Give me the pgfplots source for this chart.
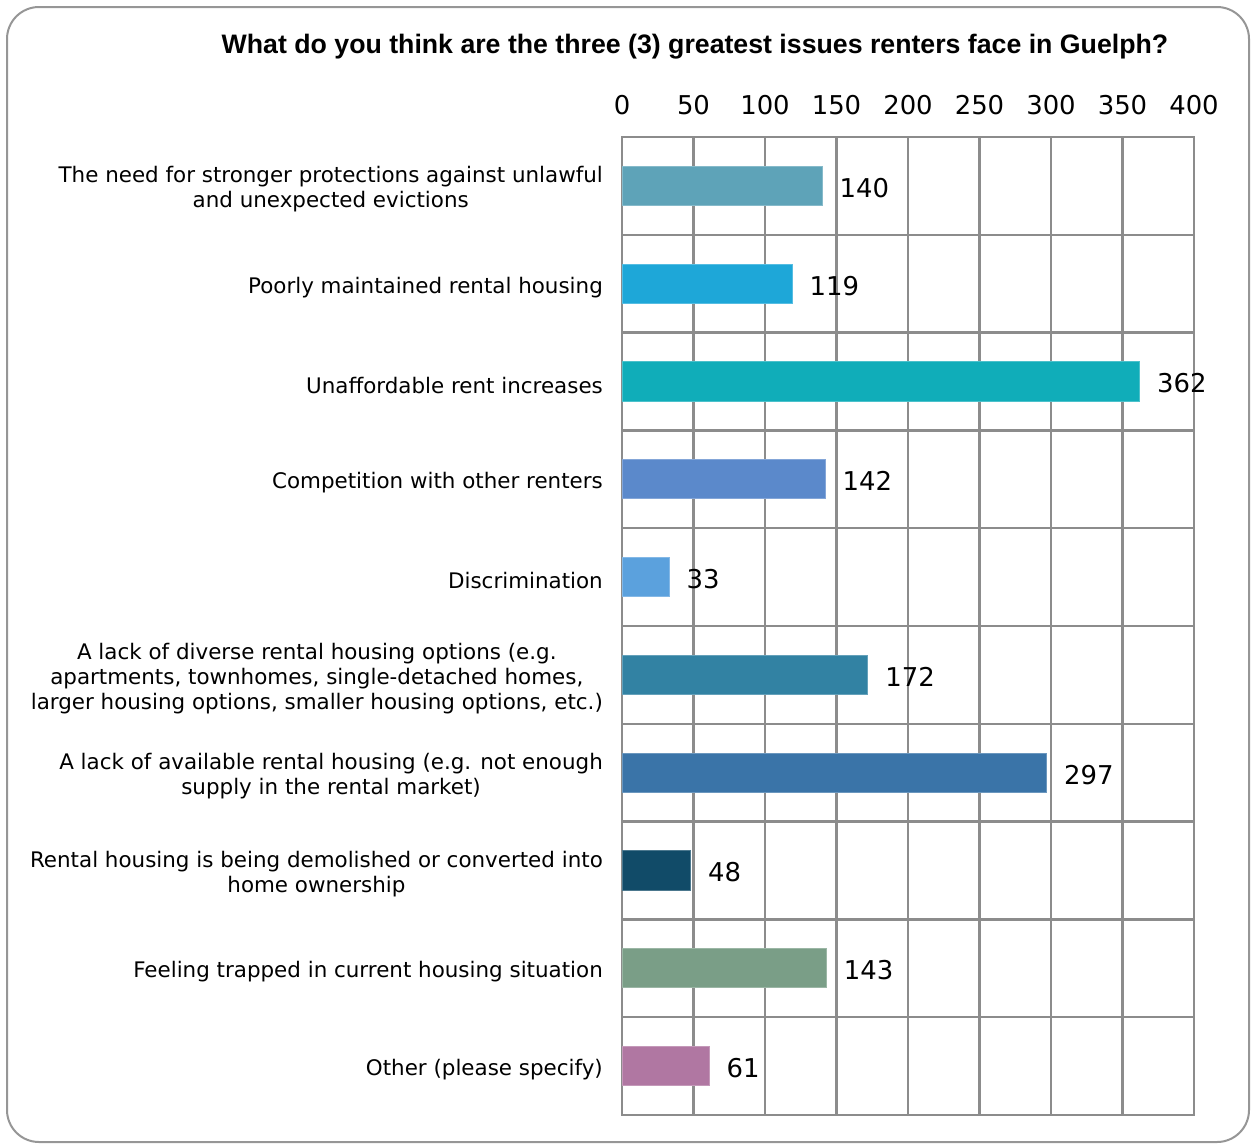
\documentclass[border=0pt]{standalone}
\usepackage{pgfplots}
\pgfplotsset{compat=1.18}
\usepackage{fontspec}
\setmainfont{DejaVu Sans}
\newfontfamily\titlefont{Liberation Sans}
\definecolor{gridgray}{RGB}{140,140,140}
\definecolor{framegray}{RGB}{150,150,150}
\definecolor{c1}{HTML}{5EA3B8}
\definecolor{c2}{HTML}{1EA7D8}
\definecolor{c3}{HTML}{10ADB9}
\definecolor{c4}{HTML}{5B89CB}
\definecolor{c5}{HTML}{5BA1DD}
\definecolor{c6}{HTML}{3282A3}
\definecolor{c7}{HTML}{3A74A8}
\definecolor{c8}{HTML}{114B68}
\definecolor{c9}{HTML}{7A9E87}
\definecolor{c10}{HTML}{B077A2}
\begin{document}
\begin{tikzpicture}
\path[use as bounding box] (0bp,0bp) rectangle (1255bp,-1147bp);
\draw[color=framegray, line width=2bp, rounded corners=32bp] (7bp,-7bp) rectangle (1249bp,-1142bp);
\node[font=\titlefont\bfseries\fontsize{26.8}{32}\selectfont] at (695bp,-47bp) {What do you think are the three (3) greatest issues renters face in Guelph?};
\begin{axis}[
  at={(622bp,-137bp)}, anchor=north west,
  scale only axis, width=572bp, height=978bp,
  xmin=0, xmax=400, ymin=-0.5, ymax=9.5, y dir=reverse,
  xtick={0,50,...,400}, xticklabel pos=upper,
  ytick={0,...,9},
  yticklabels={{The need for stronger protections against unlawful\\and unexpected evictions},
    {Poorly maintained rental housing},
    {Unaffordable rent increases},
    {Competition with other renters},
    {Discrimination},
    {A lack of diverse rental housing options (e.g.\\apartments, townhomes, single-detached homes,\\larger housing options, smaller housing options, etc.)},
    {A lack of available rental housing (e.g. not enough\\supply in the rental market)},
    {Rental housing is being demolished or converted into\\home ownership},
    {Feeling trapped in current housing situation},
    {Other (please specify)}},
  minor ytick={0.5,1.5,...,8.5},
  xmajorgrids, yminorgrids,
  major tick length=0pt, minor tick length=0pt,
  grid style={draw=gridgray, line width=2.5bp},
  minor grid style={draw=gridgray, line width=2.5bp},
  axis line style={draw=gridgray, line width=2.5bp},
  /pgf/number format/assume math mode=true,
  xticklabel style={font=\fontsize{26}{30}\selectfont, inner sep=0pt, anchor=south, yshift=22bp},
  yticklabel style={font=\fontsize{21.5}{25.3}\selectfont, align=center, inner sep=0pt, anchor=east, xshift=-19bp, yshift=-3.5bp},
  clip=false,
  every axis plot/.append style={xbar, bar shift=0pt, bar width=0.4, line width=1bp},
  point meta=x,
  nodes near coords,
  nodes near coords style={font=\fontsize{26}{30}\selectfont, inner sep=0pt, anchor=west, xshift=17bp, yshift=-2bp, text=black},
]
\addplot[fill=c1, draw=c1!75!white] coordinates {(140,0)};
\addplot[fill=c2, draw=c2!75!white] coordinates {(119,1)};
\addplot[fill=c3, draw=c3!75!white] coordinates {(362,2)};
\addplot[fill=c4, draw=c4!75!white] coordinates {(142,3)};
\addplot[fill=c5, draw=c5!75!white] coordinates {(33,4)};
\addplot[fill=c6, draw=c6!75!white] coordinates {(172,5)};
\addplot[fill=c7, draw=c7!75!white] coordinates {(297,6)};
\addplot[fill=c8, draw=c8!75!white] coordinates {(48,7)};
\addplot[fill=c9, draw=c9!75!white] coordinates {(143,8)};
\addplot[fill=c10, draw=c10!75!white] coordinates {(61,9)};
\end{axis}
\end{tikzpicture}
\end{document}
